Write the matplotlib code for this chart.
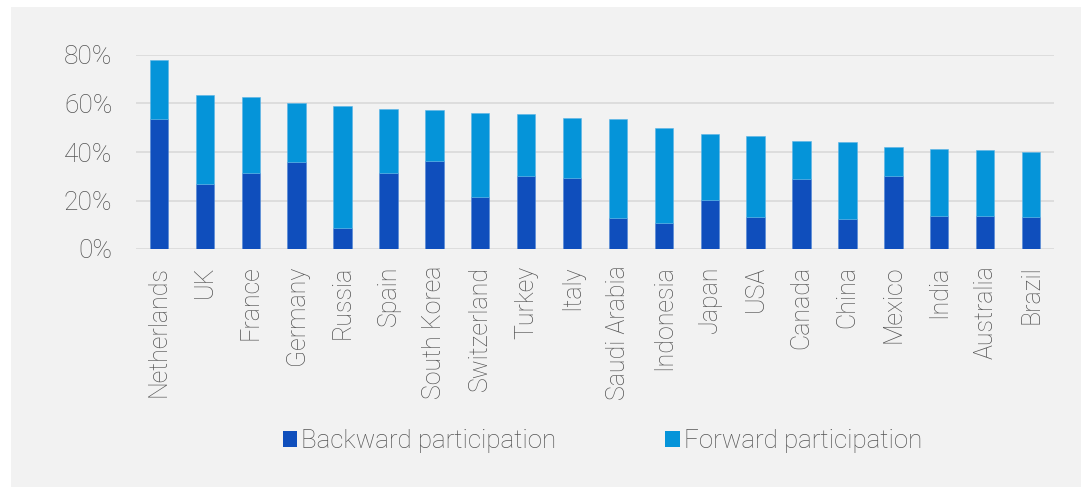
import matplotlib
matplotlib.use("Agg")
import matplotlib.pyplot as plt
from matplotlib.patches import Rectangle
from matplotlib.ticker import FuncFormatter

countries = ["Netherlands", "UK", "France", "Germany", "Russia", "Spain", "South Korea",
             "Switzerland", "Turkey", "Italy", "Saudi Arabia", "Indonesia", "Japan", "USA",
             "Canada", "China", "Mexico", "India", "Australia", "Brazil"]
backward = [53.7, 26.9, 31.4, 35.9, 8.6, 31.4, 36.4, 21.4, 29.9, 29.2,
            12.7, 10.9, 20.3, 13.1, 28.8, 12.4, 30.3, 13.8, 13.5, 13.3]
total = [77.9, 63.4, 62.6, 60.1, 58.9, 57.7, 57.5, 55.9, 55.7, 54.2,
         53.5, 49.8, 47.6, 46.8, 44.5, 44.3, 41.9, 41.1, 40.8, 40.1]
forward = [t - b for t, b in zip(total, backward)]
yticks = [0, 20, 40, 60, 80]

c_back = "#0f4ebc"
c_fwd = "#0594d9"
txt = "#555555"
font = "Roboto"

W, H = 1081, 488
fig = plt.figure(figsize=(W / 100, H / 100), dpi=100)
fig.patch.set_facecolor("white")
fig.patches.append(Rectangle((11 / W, 1 - 487 / H), 1 - 11 / W, (487 - 7) / H,
                             transform=fig.transFigure, facecolor="#f2f2f2",
                             edgecolor="none", zorder=-10))

ax = fig.add_axes([136 / W, 1 - 249 / H, (1054 - 136) / W, (249 - 55) / H])
ax.set_facecolor("none")
ax.set_zorder(1)
x = range(len(countries))
ax.bar(x, backward, width=0.4, color=c_back, label="Backward participation", zorder=3,
       edgecolor="#4f86d6", linewidth=0.4)
ax.bar(x, forward, bottom=backward, width=0.4, color=c_fwd, label="Forward participation",
       zorder=3, edgecolor="#5bb4e6", linewidth=0.4)

ax.set_xlim(-0.5, len(countries) - 0.5)
ax.set_ylim(0, 80)
ax.set_yticks(yticks)
ax.yaxis.set_major_formatter(FuncFormatter(lambda v, p: f"{v:.0f}%"))
ax.yaxis.grid(True, color="#d9d9d9", linewidth=1.2, zorder=0)
ax.set_axisbelow(True)
for s in ax.spines.values():
    s.set_visible(False)
ax.tick_params(axis="both", length=0)
ax.tick_params(axis="y", pad=17)
ax.tick_params(axis="x", pad=12)
ax.set_xticks(list(x))
ax.set_xticklabels(countries, rotation=90, fontsize=18, color=txt,
                   fontfamily=font, fontweight="light")
for lab in ax.get_yticklabels():
    lab.set_fontsize(19)
    lab.set_color(txt)
    lab.set_fontfamily(font)
    lab.set_fontweight("light")

leg = fig.legend(loc="center", bbox_to_anchor=(602.5 / W, 1 - 441 / H), ncol=2,
                 frameon=False, handlelength=0.55, handleheight=0.55,
                 handletextpad=0.15, columnspacing=4.2,
                 prop={"family": font, "size": 18.7, "weight": "light"})
for t in leg.get_texts():
    t.set_color(txt)
for h in leg.legend_handles:
    h.set_linewidth(0)

fig.savefig("out.png", dpi=100, facecolor=fig.get_facecolor())
